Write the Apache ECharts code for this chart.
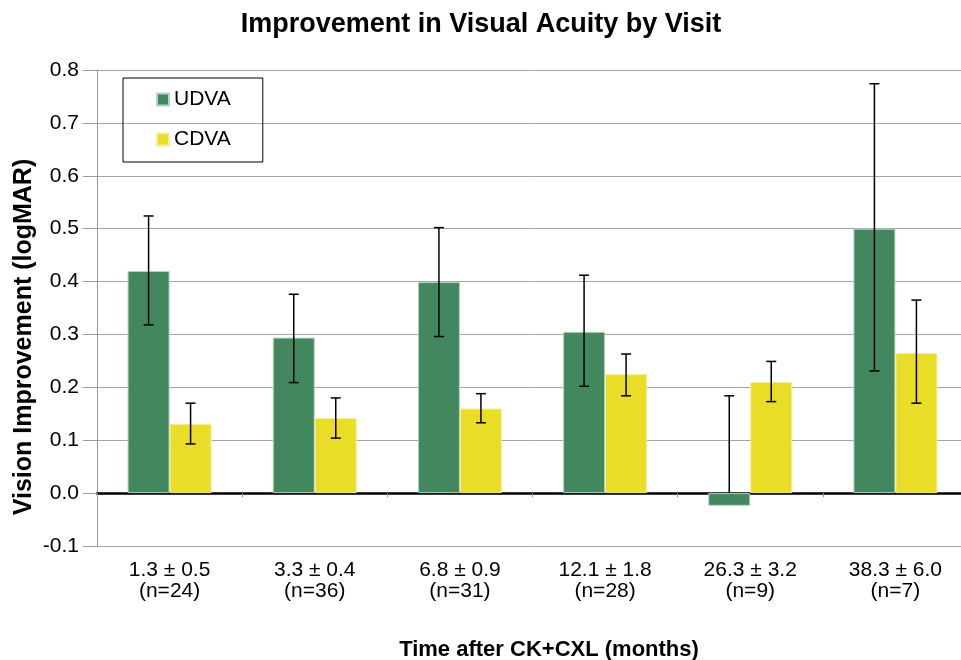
<!DOCTYPE html>
<html>
<head>
<meta charset="utf-8">
<script src="https://cdn.jsdelivr.net/npm/echarts@6/dist/echarts.min.js"></script>
<style>
  html, body { margin: 0; padding: 0; background: #fff; overflow: hidden; }
  #chart { width: 972px; height: 660px; }
</style>
</head>
<body>
<div id="chart"></div>
<script>
// 数据
const visits = ['1.3 ± 0.5\n(n=24)', '3.3 ± 0.4\n(n=36)', '6.8 ± 0.9\n(n=31)',
  '12.1 ± 1.8\n(n=28)', '26.3 ± 3.2\n(n=9)', '38.3 ± 6.0\n(n=7)'];
const udva = [0.42, 0.294, 0.399, 0.305, -0.024, 0.50];
const udvaHigh = [0.524, 0.376, 0.502, 0.412, 0.184, 0.774];
const udvaLow = [0.318, 0.209, 0.296, 0.202, null, 0.231];
const cdva = [0.131, 0.142, 0.160, 0.225, 0.210, 0.265];
const cdvaHigh = [0.170, 0.180, 0.188, 0.263, 0.249, 0.365];
const cdvaLow = [0.093, 0.104, 0.133, 0.184, 0.173, 0.170];
const yTicks = [-0.1, 0.8, 0.1]; // min, max, interval

const FONT = 'Liberation Sans, Arial, Helvetica, sans-serif';
const BAR_W = 42;

// 误差线
function errorBar(offset, high, low) {
  return function (params, api) {
    let i = api.value(0);
    let top = api.coord([i, high[i]]);
    let hasLow = low[i] !== null;
    let bottom = api.coord([i, hasLow ? low[i] : 0]);
    let x = top[0] + offset;
    let cap = 5;
    let style = { stroke: '#000', lineWidth: 1.5 };
    let children = [
      { type: 'line', shape: { x1: x, y1: top[1], x2: x, y2: bottom[1] }, style: style },
      { type: 'line', shape: { x1: x - cap, y1: top[1], x2: x + cap, y2: top[1] }, style: style }
    ];
    if (hasLow) {
      children.push({ type: 'line', shape: { x1: x - cap, y1: bottom[1], x2: x + cap, y2: bottom[1] }, style: style });
    }
    return { type: 'group', children: children };
  };
}

// 画布比窗口略宽，右侧网格超出可视区域（与原图一致）
let chart = echarts.init(document.getElementById('chart'));
let option = {
  backgroundColor: '#fff',
  animation: false,
  title: [
    {
      text: 'Improvement in Visual Acuity by Visit',
      left: 476,
      textAlign: 'center',
      top: 6,
      textStyle: { color: '#000', fontSize: 27, fontWeight: 'bold', fontFamily: FONT }
    },
    {
      text: 'Time after CK+CXL (months)',
      left: 544,
      textAlign: 'center',
      top: 634,
      textStyle: { color: '#000', fontSize: 22, fontWeight: 'bold', fontFamily: FONT }
    }
  ],
  graphic: [
    {
      type: 'text',
      x: 24,
      y: 337,
      rotation: Math.PI / 2,
      style: {
        text: 'Vision Improvement (logMAR)',
        fill: '#000',
        font: 'bold 25px ' + FONT,
        textAlign: 'center',
        textVerticalAlign: 'middle'
      }
    }
  ],
  legend: {
    orient: 'vertical',
    left: 123,
    top: 78,
    padding: [11, 32, 12, 33],
    itemGap: 19,
    itemWidth: 12,
    itemHeight: 12,
    borderColor: '#000',
    borderWidth: 1,
    icon: 'rect',
    textStyle: { color: '#000', fontSize: 21, fontFamily: FONT },
    data: ['UDVA', 'CDVA']
  },
  grid: {
    left: 97,
    top: 70,
    width: 871,
    bottom: 114,
    containLabel: false
  },
  xAxis: [
    {
      type: 'category',
      data: visits,
      position: 'bottom',
      axisLine: { show: false, onZero: false },
      axisTick: { show: false },
      axisLabel: {
        color: '#000',
        fontSize: 21,
        lineHeight: 21,
        fontFamily: FONT,
        margin: 14
      }
    },
    {
      // 零线
      type: 'category',
      data: visits,
      position: 'bottom',
      axisLine: { show: true, onZero: true, lineStyle: { color: '#000', width: 2.5 } },
      axisTick: { show: true, length: 4, lineStyle: { color: '#999' } },
      axisLabel: { show: false }
    }
  ],
  yAxis: {
    type: 'value',
    min: yTicks[0],
    max: yTicks[1],
    interval: yTicks[2],
    axisLine: { show: true, lineStyle: { color: '#999', width: 1 } },
    axisTick: { show: true, length: 14, lineStyle: { color: '#999' } },
    axisLabel: {
      color: '#000',
      fontSize: 21,
      fontFamily: FONT,
      margin: 18,
      formatter: (v) => v.toFixed(1)
    },
    splitLine: { lineStyle: { color: '#a6a6a6', width: 1 } }
  },
  series: [
    {
      name: 'UDVA',
      type: 'bar',
      data: udva,
      barWidth: BAR_W,
      barGap: '0%',
      itemStyle: { color: '#43875f', borderColor: '#b4d3c0', borderWidth: 1 }
    },
    {
      name: 'CDVA',
      type: 'bar',
      data: cdva,
      barWidth: BAR_W,
      barGap: '0%',
      itemStyle: { color: '#eadd27', borderColor: '#f4eea0', borderWidth: 1 }
    },
    {
      type: 'custom',
      renderItem: errorBar(-BAR_W / 2, udvaHigh, udvaLow),
      data: udva.map((v, i) => [i, v]),
      z: 10,
      silent: true
    },
    {
      type: 'custom',
      renderItem: errorBar(BAR_W / 2, cdvaHigh, cdvaLow),
      data: cdva.map((v, i) => [i, v]),
      z: 10,
      silent: true
    }
  ]
};
chart.setOption(option);
</script>
</body>
</html>
